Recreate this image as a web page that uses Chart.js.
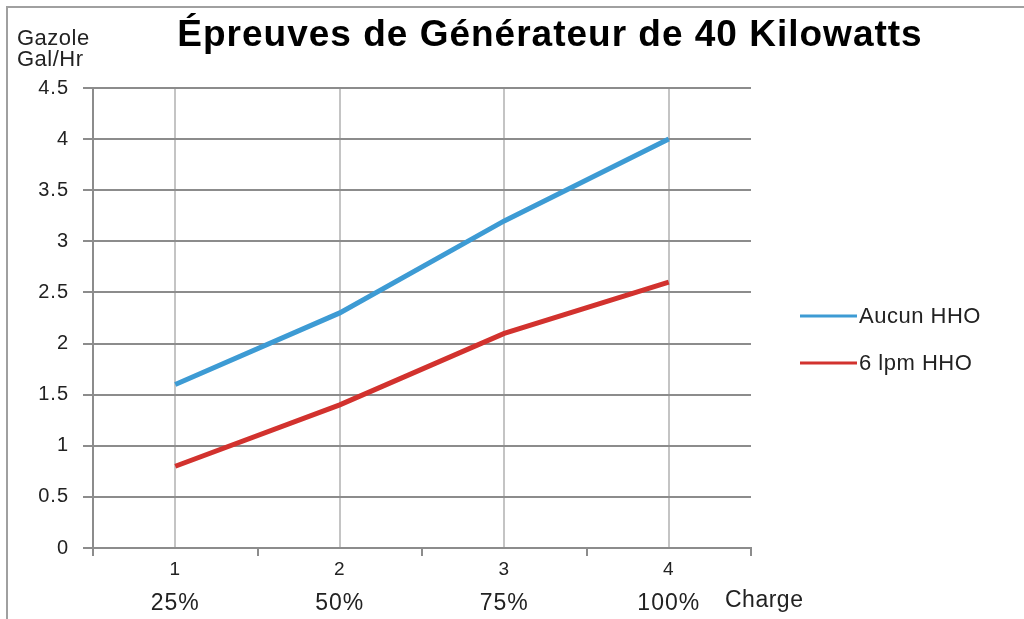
<!DOCTYPE html>
<html>
<head>
<meta charset="utf-8">
<title>Épreuves de Générateur de 40 Kilowatts</title>
<script src="https://cdn.jsdelivr.net/npm/chart.js@4/dist/chart.umd.min.js"></script>
<style>
  html, body { margin: 0; padding: 0; background: #fff; }
  #wrap { width: 1024px; height: 619px; }
</style>
</head>
<body>
<div id="wrap"><canvas id="genChart" width="1024" height="619"></canvas></div>
<script>
// load steps (top row = step number, bottom row = load percentage)
const steps = ['1', '2', '3', '4'];
const loadPct = ['25%', '50%', '75%', '100%'];

// diesel consumption, gallons per hour
const noHho = [1.6, 2.3, 3.2, 4.0];
const hho6lpm = [0.8, 1.4, 2.1, 2.6];

const seriesNames = ['Aucun HHO', '6 lpm HHO'];
const seriesColors = ['#3d9bd4', '#d2322e'];

const FONT = "'Liberation Sans', Arial, sans-serif";
const AXIS_GREY = '#8c8c8c';

// frame, title, axis captions and legend drawn straight on the canvas
const decorations = {
    id: 'decorations',
    beforeDraw(chart) {
        const ctx = chart.ctx;
        ctx.save();
        ctx.strokeStyle = '#a0a0a0';
        ctx.lineWidth = 2;
        ctx.beginPath();
        ctx.moveTo(7, 619);
        ctx.lineTo(7, 7);
        ctx.lineTo(1024, 7);
        ctx.stroke();
        ctx.restore();
        // slightly wider spacing for the axis labels
        ctx.letterSpacing = '1px';
    },
    afterDraw(chart) {
        const ctx = chart.ctx;
        ctx.save();
        ctx.fillStyle = '#000';
        ctx.textAlign = 'center';
        ctx.textBaseline = 'middle';
        ctx.font = 'bold 37px ' + FONT;
        ctx.letterSpacing = '1px';
        ctx.fillText('Épreuves de Générateur de 40 Kilowatts', 550, 36);

        ctx.fillStyle = '#222';
        ctx.textAlign = 'left';
        ctx.textBaseline = 'alphabetic';
        ctx.font = '22px ' + FONT;
        ctx.letterSpacing = '0.5px';
        ctx.fillText('Gazole', 17, 45);
        ctx.fillText('Gal/Hr', 17, 66);

        ctx.font = '23px ' + FONT;
        ctx.textBaseline = 'middle';
        ctx.fillText('Charge', 725, 601);

        // legend
        ctx.font = '22px ' + FONT;
        chart.data.datasets.forEach((ds, i) => {
            const y = 316 + i * 47;
            ctx.strokeStyle = ds.borderColor;
            ctx.lineWidth = 3;
            ctx.beginPath();
            ctx.moveTo(800, y);
            ctx.lineTo(857, y);
            ctx.stroke();
            ctx.fillStyle = '#222';
            ctx.fillText(ds.label, 859, y + 1);
        });
        ctx.restore();
    }
};

const ctx = document.getElementById('genChart').getContext('2d');
new Chart(ctx, {
    type: 'line',
    data: {
        labels: steps,
        datasets: [{
            label: seriesNames[0],
            data: noHho,
            borderColor: seriesColors[0],
            backgroundColor: seriesColors[0],
            borderWidth: 5,
            pointRadius: 0,
            tension: 0
        }, {
            label: seriesNames[1],
            data: hho6lpm,
            borderColor: seriesColors[1],
            backgroundColor: seriesColors[1],
            borderWidth: 5,
            pointRadius: 0,
            tension: 0
        }]
    },
    options: {
        responsive: false,
        animation: false,
        layout: { padding: { left: 0, top: 88, right: 273, bottom: 0 } },
        plugins: {
            legend: { display: false },
            title: { display: false },
            tooltip: { enabled: false }
        },
        scales: {
            // vertical grid lines through each category
            xg: {
                type: 'category',
                position: 'top',
                labels: steps,
                offset: true,
                grid: { offset: false, drawTicks: false, color: '#c4c4c4', lineWidth: 2 },
                border: { display: false },
                ticks: { display: false },
                afterFit: s => { s.height = 0; }
            },
            x: {
                type: 'category',
                position: 'bottom',
                offset: true,
                grid: { offset: true, drawOnChartArea: false, tickLength: 8, color: AXIS_GREY, lineWidth: 2 },
                border: { color: AXIS_GREY, width: 2 },
                ticks: { font: { family: FONT, size: 19 }, color: '#222', padding: 2, maxRotation: 0 },
                afterFit: s => { s.height = 34; }
            },
            x2: {
                type: 'category',
                position: 'bottom',
                labels: loadPct,
                offset: true,
                grid: { display: false },
                border: { display: false },
                ticks: { font: { family: FONT, size: 23 }, color: '#222', padding: 0, maxRotation: 0 },
                afterFit: s => { s.height = 37; }
            },
            y: {
                min: 0,
                max: 4.5,
                ticks: {
                    stepSize: 0.5,
                    callback: v => String(v),
                    font: { family: FONT, size: 20 },
                    color: '#222',
                    padding: 14
                },
                grid: { color: AXIS_GREY, lineWidth: 2, tickLength: 10 },
                border: { color: AXIS_GREY, width: 2 },
                afterFit: s => { s.width = 93; }
            }
        }
    },
    plugins: [decorations]
});
</script>
</body>
</html>
